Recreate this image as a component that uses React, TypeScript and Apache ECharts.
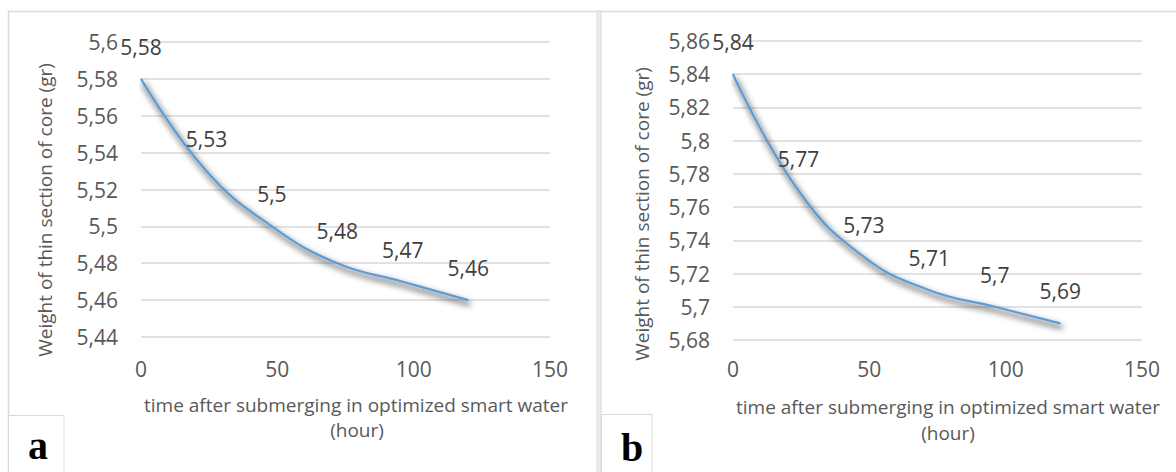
import React, { useEffect, useRef } from "react";
import * as echarts from "echarts";

// ---- data ----
const hours = [0, 24, 48, 72, 96, 120];
const weightA = [5.58, 5.53, 5.5, 5.48, 5.47, 5.46];
const weightB = [5.84, 5.77, 5.73, 5.71, 5.7, 5.69];
const xTicks = { min: 0, max: 150, interval: 50 };
const yTicksA = { min: 5.44, max: 5.6, interval: 0.02 };
const yTicksB = { min: 5.68, max: 5.86, interval: 0.02 };
const yTitle = "Weight of thin section of core (gr)";
const xTitleLine1 = "time after submerging in optimized smart water";
const xTitleLine2 = "(hour)";
const panelLetters = ["a", "b"];

const FONT = "'Open Sans', sans-serif";
const AXIS_COLOR = "#595959";
const LABEL_COLOR = "#404040";
const GRID_COLOR = "#d9d9d9";
const LINE_COLOR = "#5B9BD5";
const NUM_SIZE = 21;

const fmt = (v: number) => String(Math.round(v * 100) / 100).replace(".", ",");

export default function App() {
  const ref = useRef<HTMLDivElement>(null);
  useEffect(() => {
    document.body.style.margin = "0";
    const chart = echarts.init(ref.current!, undefined, { renderer: "svg" });

    const grids = [
      { left: 141, top: 42, width: 409, height: 295 },
      { left: 733, top: 41, width: 409, height: 299 },
    ];
    const yt = [yTicksA, yTicksB];
    const ys = [weightA, weightB];

    const xAxis = grids.map((_, i) => ({
      type: "value",
      gridIndex: i,
      min: xTicks.min,
      max: xTicks.max,
      interval: xTicks.interval,
      axisLine: { show: false },
      axisTick: { show: false },
      splitLine: { show: false },
      axisLabel: {
        color: AXIS_COLOR,
        fontFamily: FONT,
        fontSize: NUM_SIZE,
        margin: i === 0 ? 21 : 18,
        formatter: fmt,
      },
    }));
    const yAxis = grids.map((_, i) => ({
      type: "value",
      gridIndex: i,
      min: yt[i].min,
      max: yt[i].max,
      interval: yt[i].interval,
      axisLine: { show: false },
      axisTick: { show: false },
      splitLine: { show: true, lineStyle: { color: GRID_COLOR, width: 1.5 } },
      axisLabel: {
        color: AXIS_COLOR,
        fontFamily: FONT,
        fontSize: NUM_SIZE,
        margin: 23,
        formatter: fmt,
      },
    }));
    const series = grids.map((_, i) => ({
      type: "line",
      xAxisIndex: i,
      yAxisIndex: i,
      data: hours.map((h, k) => [h, ys[i][k]]),
      smooth: 0.45,
      symbol: "circle",
      symbolSize: 1,
      itemStyle: { color: LINE_COLOR },
      lineStyle: {
        color: LINE_COLOR,
        width: 2.2,
        shadowColor: "rgba(0,0,0,1)",
        shadowBlur: 6,
        shadowOffsetX: 2,
        shadowOffsetY: 4,
      },
      label: {
        show: true,
        position: "top",
        distance: 21,
        color: LABEL_COLOR,
        fontFamily: FONT,
        fontSize: NUM_SIZE,
        formatter: (p: any) => fmt(p.value[1]),
      },
    }));

    const txt = (x: number, y: number, text: string, rot = 0, extra: any = {}) => ({
      type: "text",
      x,
      y,
      rotation: rot,
      silent: true,
      style: {
        text,
        fill: AXIS_COLOR,
        font: `19px ${FONT}`,
        textAlign: "center",
        textVerticalAlign: "middle",
        ...extra,
      },
    });

    const graphic: any[] = [
      // frame lines
      { type: "line", shape: { x1: 8, y1: 11.5, x2: 1176, y2: 11.5 }, style: { stroke: GRID_COLOR, lineWidth: 1.5 } },
      { type: "line", shape: { x1: 8.5, y1: 11, x2: 8.5, y2: 472 }, style: { stroke: GRID_COLOR, lineWidth: 1.5 } },
      { type: "rect", shape: { x: 597, y: 11, width: 4, height: 461 }, style: { fill: "#ececec", stroke: GRID_COLOR, lineWidth: 1 } },
      // letter boxes
      { type: "rect", shape: { x: 8.5, y: 415.5, width: 55.5, height: 60 }, style: { fill: "#fff", stroke: GRID_COLOR, lineWidth: 1 } },
      { type: "rect", shape: { x: 601.5, y: 414.5, width: 50.5, height: 60 }, style: { fill: "#fff", stroke: GRID_COLOR, lineWidth: 1 } },
      {
        type: "text", x: 38, y: 465, silent: true,
        style: { text: panelLetters[0], fill: "#000", font: "bold 40px 'Liberation Serif', serif", textAlign: "center", textVerticalAlign: "bottom" },
      },
      {
        type: "text", x: 632, y: 467, silent: true,
        style: { text: panelLetters[1], fill: "#000", font: "bold 40px 'Liberation Serif', serif", textAlign: "center", textVerticalAlign: "bottom" },
      },
      // axis titles
      txt(45, 210, yTitle, Math.PI / 2),
      txt(642, 214, yTitle, Math.PI / 2),
      txt(356, 405, xTitleLine1),
      txt(357, 430, xTitleLine2),
      txt(948, 407, xTitleLine1),
      txt(948, 433, xTitleLine2),
    ];

    chart.setOption({
      animation: false,
      backgroundColor: "#ffffff",
      grid: grids,
      xAxis,
      yAxis,
      series,
      graphic,
    });
    return () => chart.dispose();
  }, []);
  return (
    <div
      ref={ref}
      style={{ position: "fixed", left: 0, top: 0, width: 1176, height: 472, background: "#fff" }}
    />
  );
}
